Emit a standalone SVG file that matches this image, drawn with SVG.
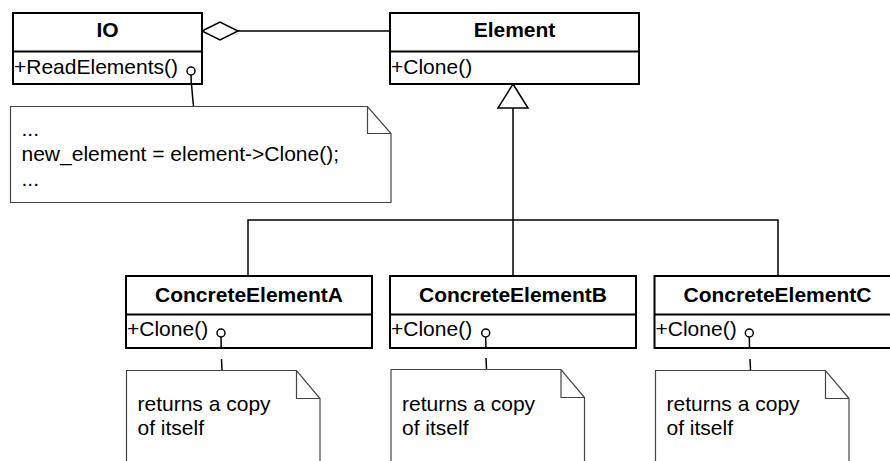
<svg xmlns="http://www.w3.org/2000/svg" width="890" height="461" viewBox="0 0 890 461">
<style>
.box{fill:#fff;stroke:#000;stroke-width:2}
.div{stroke:#000;stroke-width:2}
.note{fill:#fff;stroke:#444;stroke-width:1.2}
.t{font-family:"Liberation Sans",Arial,sans-serif;font-size:21px;fill:#000}
.b{font-weight:bold;text-anchor:middle}
.c{fill:#fff;stroke:#000;stroke-width:1.5}
.ln{fill:none;stroke:#000;stroke-width:1.5}
.dash{fill:none;stroke:#000;stroke-width:1.5}
</style>
<rect width="890" height="461" fill="#fff"/>
<g id="connectors">
<line class="ln" x1="238" y1="31" x2="390" y2="31"/>
<polygon class="ln" points="202,31 220,22 238,31 220,40" fill="#fff"/>
<line class="ln" x1="513" y1="108" x2="513" y2="276"/>
<polygon class="ln" points="513,84 528,108 498,108" fill="#fff"/>
<polyline class="ln" points="248,276 248,220 778,220 778,276"/>
<line class="dash" x1="191.5" y1="84" x2="192.5" y2="96"/>
<line class="dash" x1="192.5" y1="96" x2="193.5" y2="106"/>
<line class="dash" x1="221.5" y1="359" x2="222" y2="370"/>
<line class="dash" x1="486" y1="358" x2="486.5" y2="369"/>
<line class="dash" x1="750" y1="359" x2="750.5" y2="370"/>
</g>
<g id="IO">
<rect class="box" x="13" y="13" width="189" height="71"/>
<line class="div" x1="13" y1="51.5" x2="202" y2="51.5"/>
<text class="t b" x="107.5" y="37">IO</text>
<text class="t" x="14" y="73.5">+ReadElements()</text>
<line class="ln" x1="191" y1="75" x2="191.3" y2="84"/>
<circle class="c" cx="191" cy="71" r="4"/>
</g>
<g id="Element">
<rect class="box" x="390" y="13" width="249" height="71"/>
<line class="div" x1="390" y1="51.5" x2="639" y2="51.5"/>
<text class="t b" x="514.5" y="37">Element</text>
<text class="t" x="391" y="73.5">+Clone()</text>
</g>
<g id="ConcreteElementA">
<rect class="box" x="126" y="276" width="246" height="72"/>
<line class="div" x1="126" y1="314.5" x2="372" y2="314.5"/>
<text class="t b" x="249" y="302">ConcreteElementA</text>
<text class="t" x="127" y="336">+Clone()</text>
<line class="ln" x1="221" y1="337" x2="221.2" y2="348"/>
<circle class="c" cx="221" cy="333" r="4"/>
</g>
<g id="ConcreteElementB">
<rect class="box" x="390" y="276" width="246" height="72"/>
<line class="div" x1="390" y1="314.5" x2="636" y2="314.5"/>
<text class="t b" x="513" y="302">ConcreteElementB</text>
<text class="t" x="391" y="336">+Clone()</text>
<line class="ln" x1="485.7" y1="337" x2="485.9" y2="348"/>
<circle class="c" cx="485.7" cy="333" r="4"/>
</g>
<g id="ConcreteElementC">
<rect class="box" x="654.5" y="276" width="246" height="72"/>
<line class="div" x1="654.5" y1="314.5" x2="900" y2="314.5"/>
<text class="t b" x="777.5" y="302">ConcreteElementC</text>
<text class="t" x="655.5" y="336">+Clone()</text>
<line class="ln" x1="749.3" y1="337" x2="749.5" y2="348"/>
<circle class="c" cx="749.3" cy="333" r="4"/>
</g>
<g id="note-IO">
<path class="note" d="M10.5,106.5 H367.5 L391,133.5 V202.5 H10.5 Z M367.5,106.5 V133.5 H391"/>
<text class="t" x="21.5" y="135.5">...</text>
<text class="t" x="21.5" y="161">new_element = element-&gt;Clone();</text>
<text class="t" x="21.5" y="185.5">...</text>
</g>
<g id="note-A">
<path class="note" d="M126.5,370.5 H296.5 L320,398.5 V470 H126.5 Z M296.5,370.5 V398.5 H320"/>
<text class="t" x="137.5" y="411">returns a copy</text>
<text class="t" x="137.5" y="435">of itself</text>
</g>
<g id="note-B">
<path class="note" d="M391,369.5 H561 L584.5,397.5 V470 H391 Z M561,369.5 V397.5 H584.5"/>
<text class="t" x="402" y="411">returns a copy</text>
<text class="t" x="402" y="435">of itself</text>
</g>
<g id="note-C">
<path class="note" d="M655.5,370.5 H825.5 L849,398.5 V470 H655.5 Z M825.5,370.5 V398.5 H849"/>
<text class="t" x="666.5" y="411">returns a copy</text>
<text class="t" x="666.5" y="435">of itself</text>
</g>
</svg>
